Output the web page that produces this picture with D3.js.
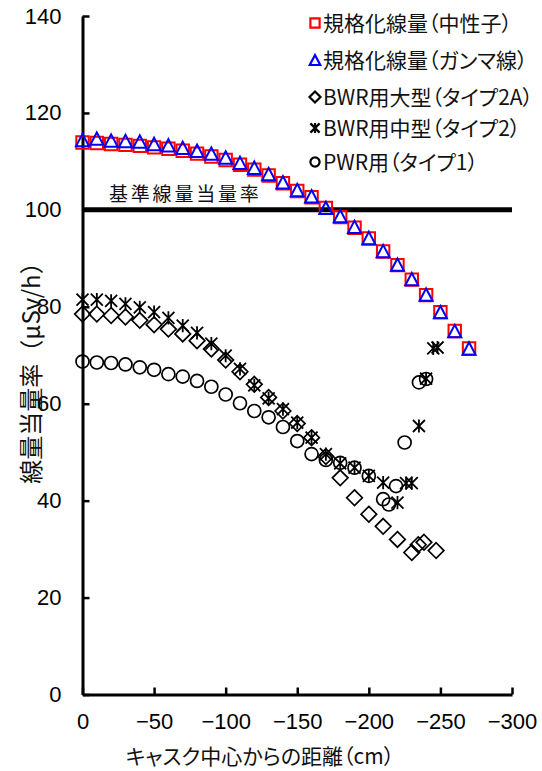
<!DOCTYPE html>
<html><head><meta charset="utf-8">
<script src="https://cdn.jsdelivr.net/npm/d3@7"></script>
<style>
html,body{margin:0;padding:0;background:#fff;}
svg{display:block;}
.jp{font-family:"Noto Sans CJK JP","Noto Sans",sans-serif;}
.num{font-family:"Liberation Sans",Arial,sans-serif;}
</style></head>
<body>
<script>
// ---- data ----
const distUniform = [0,-10,-20,-30,-40,-50,-60,-70,-80,-90,-100,-110,-120,-130,-140,-150,-160,-170,-180,-190,-200,-210,-220,-230,-240,-250,-260,-270];
const neutron = [113.9,113.8,113.6,113.4,113.2,112.9,112.6,112.2,111.6,111.0,110.3,109.3,108.3,107.1,105.5,103.9,102.6,100.4,98.5,96.3,94.1,91.4,88.6,85.6,82.4,78.9,75.0,71.4];
const gamma = [114.4,114.7,114.3,114.2,114.1,113.6,113.3,112.8,112.2,111.6,110.8,109.7,108.7,107.4,105.7,104.1,102.8,100.4,98.7,96.5,94.2,91.5,88.7,85.7,82.5,78.9,75.0,71.4];
const bwr2aX = [0,-10,-20,-30,-40,-50,-60,-70,-80,-90,-100,-110,-120,-130,-140,-150,-160,-170,-180,-190,-200,-210,-220,-230,-234.5,-238.5,-247];
const bwr2a = [78.5,78.5,78.2,77.9,77.2,76.3,75.4,74.4,73.0,71.3,69.0,66.6,64.0,61.3,58.5,55.9,53.0,49.1,44.7,40.6,37.2,34.7,32.0,29.3,30.9,31.4,29.7];
const bwr2X = [0,-10,-20,-30,-40,-50,-60,-70,-80,-90,-100,-110,-120,-130,-140,-150,-160,-170,-180,-190,-200,-210,-220,-226,-230,-235,-240,-245,-248];
const bwr2 = [81.5,81.5,81.2,80.6,79.9,78.9,77.7,76.1,74.6,72.4,69.9,67.2,63.8,61.1,58.9,56.1,53.0,49.6,47.7,46.8,45.1,43.7,39.6,43.6,43.6,55.4,65.2,71.4,71.6];
const pwr1X = [0,-10,-20,-30,-40,-50,-60,-70,-80,-90,-100,-110,-120,-130,-140,-150,-160,-170,-180,-190,-200,-210,-214,-219,-225,-235,-240];
const pwr1 = [68.7,68.5,68.4,68.1,67.5,67.0,66.1,65.6,64.7,63.5,61.9,60.1,58.5,57.2,55.2,52.3,49.6,48.4,47.8,46.8,45.1,40.3,39.2,43.0,52.0,64.4,65.1];
const xTicks = [0,-50,-100,-150,-200,-250,-300];
const yTicks = [0,20,40,60,80,100,120,140];
const refValue = 100;
const seriesNames = ["規格化線量（中性子）","規格化線量（ガンマ線）","BWR用大型（タイプ2A）","BWR用中型（タイプ2）","PWR用（タイプ1）"];

// ---- layout ----
const W = 542, H = 771;
const svg = d3.select("body").append("svg").attr("width", W).attr("height", H);
const x = d3.scaleLinear().domain([0,-300]).range([82.5,512]);
const y = d3.scaleLinear().domain([0,140]).range([694.5,16]);

function marker(type, s){
  if(type==="square") return `M${-s},${-s}h${2*s}v${2*s}h${-2*s}Z`;
  if(type==="triangle"){ const w=s*1.05, h=s; return `M0,${-h}L${w},${h}L${-w},${h}Z`; }
  if(type==="diamond") return `M0,${-s}L${s},0L0,${s}L${-s},0Z`;
  if(type==="circle") return `M${s},0A${s},${s} 0 1,1 ${-s},0A${s},${s} 0 1,1 ${s},0Z`;
  if(type==="star") return `M${-s},${-s}L${s},${s}M${s},${-s}L${-s},${s}M0,${-s*1.1}L0,${s*1.1}`;
}

const series = [
  {name:seriesNames[0], xs:distUniform, ys:neutron, type:"square", size:6.2, color:"#ff0000", sw:2},
  {name:seriesNames[1], xs:distUniform, ys:gamma, type:"triangle", size:6.2, color:"#0000ff", sw:2},
  {name:seriesNames[2], xs:bwr2aX, ys:bwr2a, type:"diamond", size:7.8, color:"#000", sw:1.7},
  {name:seriesNames[3], xs:bwr2X, ys:bwr2, type:"star", size:6, color:"#000", sw:1.8},
  {name:seriesNames[4], xs:pwr1X, ys:pwr1, type:"circle", size:6.5, color:"#000", sw:1.7}
];

// axes
const yAxis = d3.axisLeft(y).tickValues(yTicks).tickSize(-7).tickSizeOuter(0).tickPadding(21);
const gy = svg.append("g").attr("transform", `translate(${x(0)},0)`).call(yAxis);
gy.select(".domain").attr("stroke","#000").attr("stroke-width",3);
gy.selectAll(".tick line").attr("stroke","#000").attr("stroke-width",2.5);
gy.selectAll(".tick text").attr("class","num").attr("font-size",22).attr("fill","#000");

const xAxis = d3.axisBottom(x).tickValues(xTicks).tickSize(-7).tickSizeOuter(0).tickPadding(19)
  .tickFormat(d => d===0 ? "0" : "\u2212"+Math.abs(d));
const gx = svg.append("g").attr("transform", `translate(0,${y(0)})`).call(xAxis);
gx.select(".domain").attr("stroke","#000").attr("stroke-width",3);
gx.selectAll(".tick line").attr("stroke","#000").attr("stroke-width",2.5);
gx.selectAll(".tick text").attr("class","num").attr("font-size",22).attr("fill","#000");

// reference line
svg.append("line").attr("x1",x(0)).attr("x2",x(-300)).attr("y1",y(refValue)).attr("y2",y(refValue))
  .attr("stroke","#000").attr("stroke-width",5);
svg.append("text").attr("class","jp").attr("x",109).attr("y",201).attr("font-size",19)
  .attr("letter-spacing","2.8px").attr("fill","#111").text("基準線量当量率");

// markers
series.forEach(s => {
  const g = svg.append("g");
  g.selectAll("path").data(s.xs.map((d,i)=>[d,s.ys[i]])).join("path")
    .attr("transform", d => `translate(${x(d[0])},${y(d[1])})`)
    .attr("d", marker(s.type, s.size))
    .attr("fill","none").attr("stroke",s.color).attr("stroke-width",s.sw);
});

// legend
const legY = [23,60,97,128,162];
const lg = svg.append("g");
series.forEach((s,i) => {
  lg.append("path").attr("transform",`translate(315,${legY[i]})`)
    .attr("d", marker(s.type, s.type==="diamond"?5.5:(s.type==="triangle"?5:4.6)))
    .attr("fill","none").attr("stroke",s.color).attr("stroke-width",2.2);
  lg.append("text").attr("class","jp").attr("x",323).attr("y",legY[i])
    .attr("dy","0.36em").attr("font-size",21).attr("fill","#111")
    .style("font-feature-settings","'palt' 1").text(s.name);
});

// axis titles
svg.append("text").attr("class","jp").attr("x",260).attr("y",764).attr("text-anchor","middle")
  .attr("font-size",21).attr("fill","#111").style("font-feature-settings","'palt' 1")
  .text("キャスク中心からの距離（cm）");
svg.append("text").attr("class","jp").attr("transform","translate(31,367) rotate(-90)")
  .attr("text-anchor","middle").attr("dy","0.36em").attr("font-size",24).attr("fill","#111")
  .text("線量当量率（μSv/h）");
</script>
</body></html>
